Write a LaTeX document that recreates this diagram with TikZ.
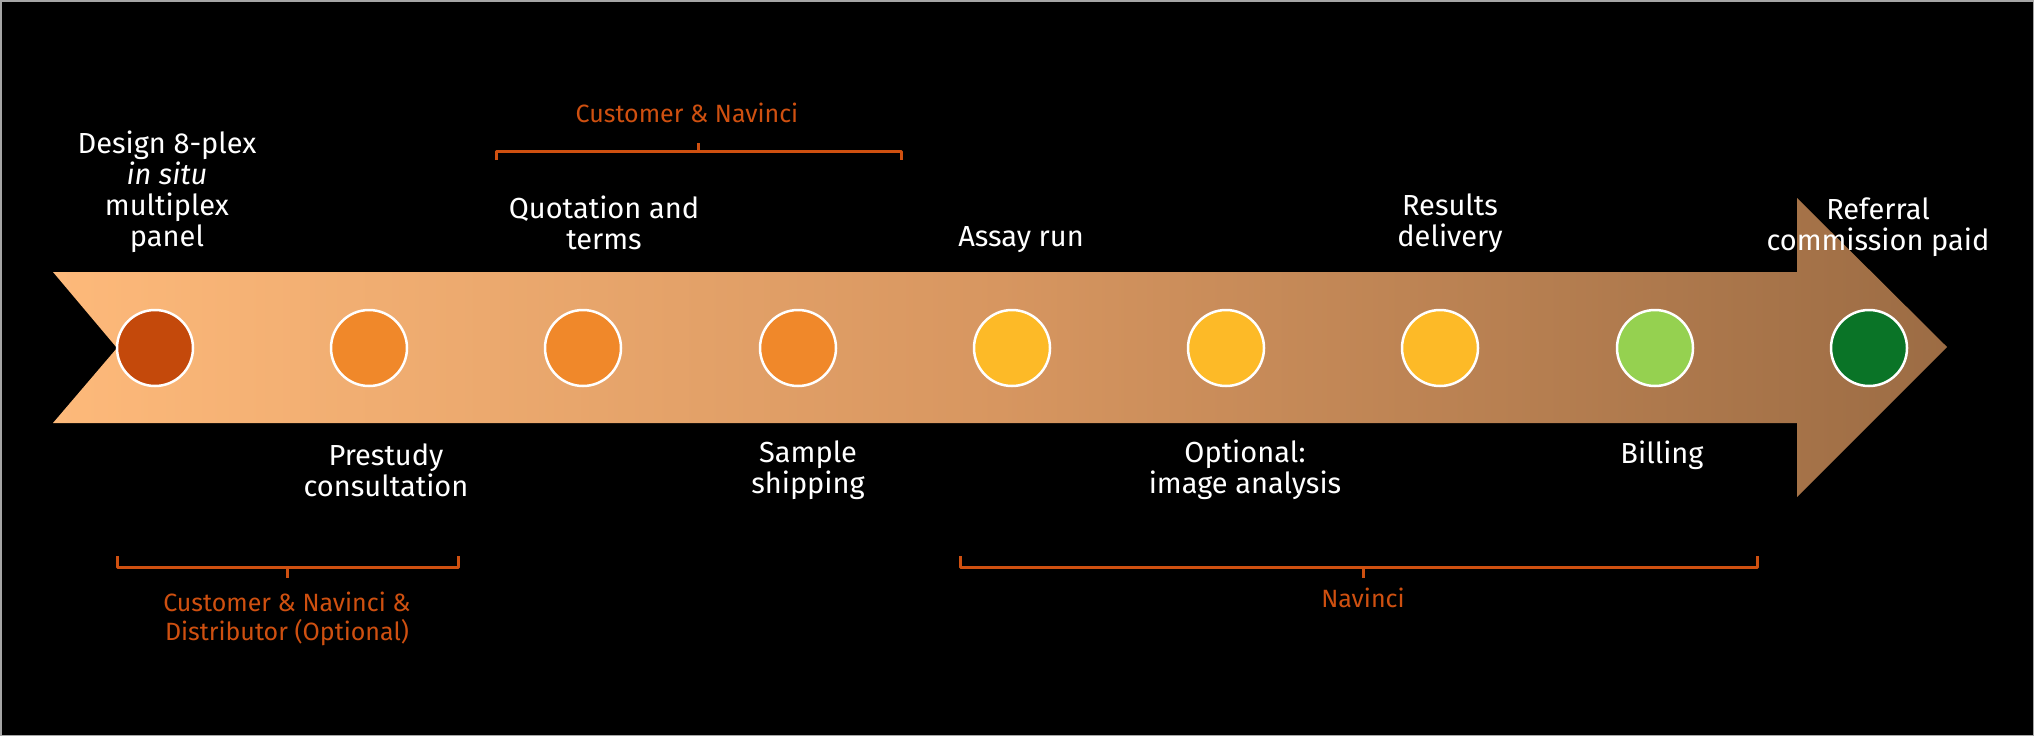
\documentclass[tikz,border=0pt]{standalone}
\usepackage{fontspec}
\setmainfont{Fira Sans}
\definecolor{bgpeach}{HTML}{FDB97A}
\definecolor{bgmid}{HTML}{D79660}
\definecolor{bgbrown}{HTML}{9C6C44}
\definecolor{cdark}{HTML}{C4490B}
\definecolor{corange}{HTML}{F0882A}
\definecolor{cyellow}{HTML}{FDBA27}
\definecolor{clgreen}{HTML}{95D150}
\definecolor{cgreen}{HTML}{0A7427}
\definecolor{lbl}{HTML}{CF5010}
\tikzset{
  dot/.style={circle, draw=white, line width=2.5pt, minimum size=76pt, inner sep=0pt},
  steptext/.style={text=white, align=center, font=\fontsize{29}{31}\selectfont, inner sep=0pt},
  grptext/.style={text=lbl, align=center, font=\fontsize{25}{29}\selectfont, inner sep=0pt},
  brack/.style={draw=lbl, line width=3pt, line join=round}
}
\begin{document}
\begin{tikzpicture}[x=1pt,y=-1pt]
\useasboundingbox (0,0) rectangle (2034,736);
\fill[black] (0,0) rectangle (2034,736);
\draw[gray!70, line width=1.5pt] (0.75,0.75) rectangle (2033.25,735.25);
% arrow
\shade[left color=bgpeach, right color=bgbrown, middle color=bgmid]
  (53,272) -- (1797,272) -- (1797,198) -- (1947,347) -- (1797,497) -- (1797,423) -- (53,423) -- (117,348) -- cycle;
% dots
\node[dot, fill=cdark]   (c1) at (155,348) {};
\node[dot, fill=corange] (c2) at (369,348) {};
\node[dot, fill=corange] (c3) at (583,348) {};
\node[dot, fill=corange] (c4) at (798,348) {};
\node[dot, fill=cyellow] (c5) at (1012,348) {};
\node[dot, fill=cyellow] (c6) at (1226,348) {};
\node[dot, fill=cyellow] (c7) at (1440,348) {};
\node[dot, fill=clgreen] (c8) at (1655,348) {};
\node[dot, fill=cgreen]  (c9) at (1869,348) {};
% step labels above
\node[steptext] (t1) at (167,192) {Design 8-plex\\\textit{in situ}\\multiplex\\panel};
\node[steptext] (t3) at (604,223) {Quotation and\\terms};
\node[steptext] (t5) at (1021,240) {Assay run};
\node[steptext] (t7) at (1450,223) {Results\\delivery};
\node[steptext] (t9) at (1878,227) {Referral\\commission paid};
% step labels below
\node[steptext] (t2) at (386,470) {Prestudy\\consultation};
\node[steptext] (t4) at (808,470) {Sample\\shipping};
\node[steptext] (t6) at (1245,470) {Optional:\\image analysis};
\node[steptext] (t8) at (1662,455) {Billing};
% brackets
\draw[brack] (496,160) -- (496,151) -- (901,151) -- (901,160);
\draw[brack] (698,151) -- (698,143);
\node[grptext] (g1) at (687,113) {Customer \& Navinci};
\draw[brack] (117,556) -- (117,567) -- (458,567) -- (458,556);
\draw[brack] (287,567) -- (287,578);
\node[grptext] (g2) at (287,619) {Customer \& Navinci \&\\Distributor (Optional)};
\draw[brack] (960,556) -- (960,567) -- (1757,567) -- (1757,556);
\draw[brack] (1363,567) -- (1363,578);
\node[grptext] (g3) at (1363,598) {Navinci};
\end{tikzpicture}
\end{document}
